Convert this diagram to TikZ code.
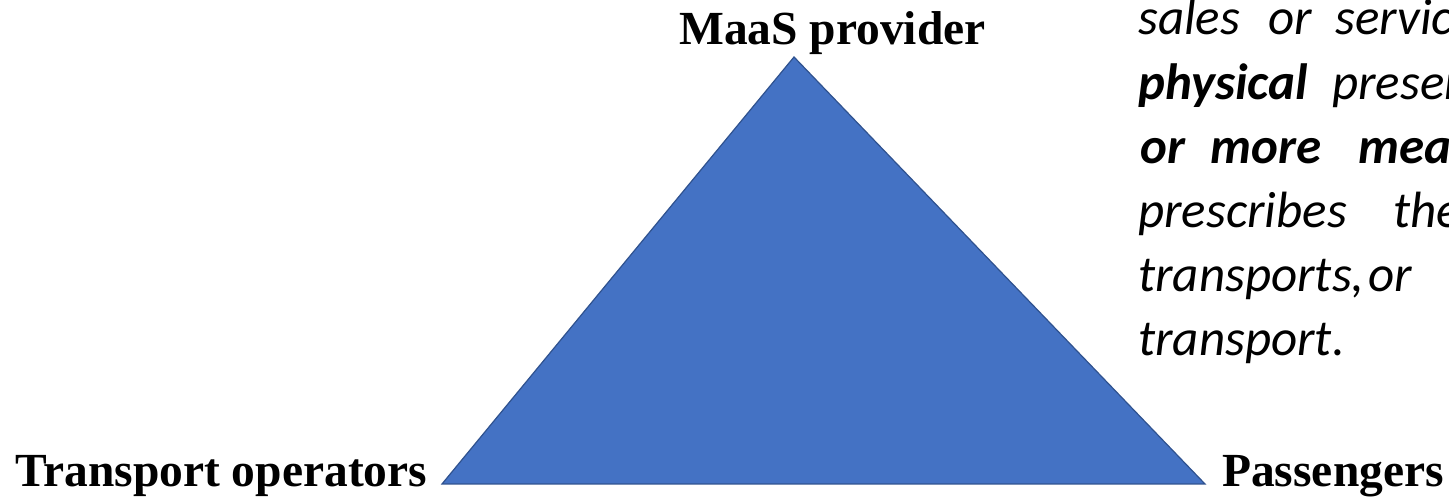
\documentclass[tikz,border=0pt]{standalone}
\usepackage{fontspec}
\setmainfont{Liberation Serif}
\newfontfamily\calib{Carlito}
\definecolor{triFill}{HTML}{4472C4}
\definecolor{triLine}{HTML}{2F528F}
\begin{document}
\begin{tikzpicture}[x=1pt,y=1pt,
  lbl/.style={font=\fontsize{47.5}{50}\selectfont\bfseries, inner sep=0pt, anchor=base west},
  wd/.style={font=\calib\fontsize{51}{60}\selectfont\itshape, inner sep=0pt, anchor=base west},
  bwd/.style={wd, font=\calib\fontsize{51}{60}\selectfont\itshape\bfseries}]
\useasboundingbox (0,0) rectangle (1449,497);
\clip (0,0) rectangle (1449,497);
% triangle corners
\coordinate (top) at (794,440);
\coordinate (bl) at (442,13);
\coordinate (br) at (1205,13);
\filldraw[fill=triFill, draw=triLine, line width=1.2pt, line join=miter] (top) -- (bl) -- (br) -- cycle;
% labels
\node[lbl] (maas) at (679,452) {MaaS provider};
\node[lbl] (ops) at (15,10) {Transport operators};
\node[lbl] (pass) at (1222,10) {Passengers};
% right text (clipped at the right edge)
\node[wd] (l1a) at (1138,462) {sales};
\node[wd] (l1b) at (1268,462) {or};
\node[wd] (l1c) at (1335,462) {service};
\node[bwd] (l2a) at (1138,397) {physical};
\node[wd] (l2b) at (1332,397) {presence};
\node[bwd] (l3a) at (1140,333) {or};
\node[bwd] (l3b) at (1210,333) {more};
\node[bwd] (l3c) at (1358,333) {means};
\node[wd] (l4a) at (1138,269) {prescribes};
\node[wd] (l4b) at (1393,269) {the};
\node[wd] (l5a) at (1138,205) {transports,};
\node[wd] (l5b) at (1368,205) {or};
\node[wd] (l6a) at (1138,141) {transport.};
\end{tikzpicture}
\end{document}
